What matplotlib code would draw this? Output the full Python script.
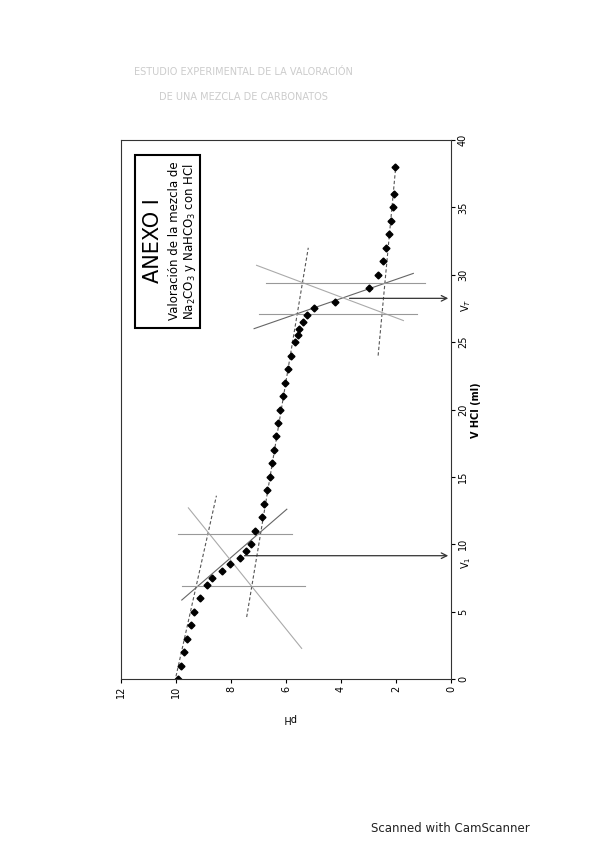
import matplotlib
matplotlib.use("Agg")
import matplotlib.pyplot as plt

# Data (volume HCl in mL, pH)
vol = [0, 1, 2, 3, 4, 5, 6, 7, 7.5, 8, 8.5, 9, 9.5, 10, 11, 12, 13, 14, 15, 16, 17, 18,
       19, 20, 21, 22, 23, 24, 25, 25.5, 26, 26.5, 27, 27.5, 28, 29, 30, 31, 32, 33, 34, 35, 36, 38]
ph = [9.93, 9.82, 9.70, 9.60, 9.47, 9.34, 9.14, 8.89, 8.70, 8.31, 8.04, 7.67, 7.47, 7.28, 7.11,
      6.88, 6.80, 6.70, 6.60, 6.50, 6.45, 6.38, 6.30, 6.22, 6.12, 6.02, 5.92, 5.81, 5.68, 5.58,
      5.51, 5.39, 5.22, 5.00, 4.22, 3.00, 2.67, 2.46, 2.36, 2.27, 2.19, 2.11, 2.06, 2.03]

# construction lines: (pH1, V1, pH2, V2)
dashed_lines = [(10.0, 0.2, 8.53, 13.6), (7.43, 4.6, 5.19, 32.0), (2.65, 24.0, 2.01, 38.0)]
tangent_lines = [(9.79, 5.86, 5.97, 12.6), (7.16, 26.0, 1.37, 30.1)]
light_lines = [(9.55, 12.7, 5.43, 2.27), (7.07, 30.7, 1.73, 26.6)]
const_v = [(10.75, 9.92, 5.8), (6.9, 9.79, 5.3), (29.4, 6.74, 0.95), (27.1, 6.98, 1.25)]
equiv = [(9.15, 7.61, "V$_1$"), (28.25, 3.79, "V$_T$")]

fig = plt.figure(figsize=(5.99, 8.48), dpi=100)
ax = fig.add_axes([121/599, 169/848, 330/599, 539/848])
ax.set_xlim(12, 0)
ax.set_ylim(0, 40)

for a, b, c, d in dashed_lines:
    ax.plot([a, c], [b, d], color="#555555", lw=0.8, ls=(0, (3, 2)))
for a, b, c, d in tangent_lines:
    ax.plot([a, c], [b, d], color="#666666", lw=0.8)
for a, b, c, d in light_lines:
    ax.plot([a, c], [b, d], color="#aaaaaa", lw=0.8)
for v, p1, p2 in const_v:
    ax.plot([p1, p2], [v, v], color="#999999", lw=0.8)
for v, p, lab in equiv:
    ax.annotate("", xy=(0, v), xytext=(p, v),
                arrowprops=dict(arrowstyle="->", color="#333333", lw=0.9))
    ax.text(-0.55, v - 0.5, lab, rotation=90, ha="center", va="center", fontsize=7)

ax.plot(ph, vol, ls="none", marker="D", ms=3.5, color="black")

ax.yaxis.tick_right()
ax.set_yticks(range(0, 41, 5))
ax.set_xticks(range(0, 13, 2))
ax.tick_params(axis="both", labelsize=7, direction="out", length=3, pad=2)
for t in ax.get_yticklabels():
    t.set_rotation(90); t.set_va("center")
for t in ax.get_xticklabels():
    t.set_rotation(90); t.set_ha("center")
for s in ax.spines.values():
    s.set_linewidth(0.8)
    s.set_color("#333333")

fig.text(476/599, 1-410/848, "V HCl (ml)", rotation=90, ha="center", va="center",
         fontsize=7, fontweight="bold")
fig.text(289/599, 1-718/848, "pH", rotation=180, ha="center", va="center", fontsize=7)

box = plt.Rectangle((135/599, 1-328/848), 65/599, 173/848, transform=fig.transFigure,
                    fill=False, lw=1.5, color="black")
fig.add_artist(box)
fig.text(153/599, 1-241/848, "ANEXO I", rotation=90, ha="center", va="center", fontsize=15)
fig.text(174/599, 1-241/848, "Valoración de la mezcla de", rotation=90,
         ha="center", va="center", fontsize=8.5)
fig.text(190/599, 1-241/848, "Na$_2$CO$_3$ y NaHCO$_3$ con HCl", rotation=90,
         ha="center", va="center", fontsize=8.5)

fig.text(243/599, 1-75/848, "ESTUDIO EXPERIMENTAL DE LA VALORACIÓN", ha="center",
         fontsize=7, color="#cccccc")
fig.text(243/599, 1-100/848, "DE UNA MEZCLA DE CARBONATOS", ha="center",
         fontsize=7, color="#cccccc")
fig.text(450/599, 1-828/848, "Scanned with CamScanner", ha="center", va="center",
         fontsize=8.5, color="#222222")

fig.savefig("out.png", dpi=100)
